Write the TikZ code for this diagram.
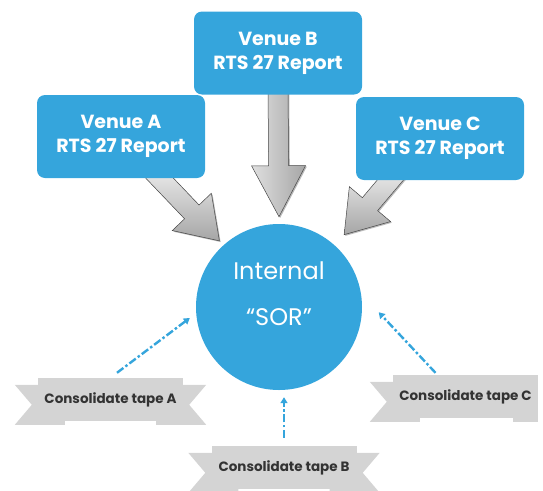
\documentclass[tikz,border=0pt]{standalone}
\usepackage{fontspec}
\setmainfont{Poppins}
\usetikzlibrary{calc,arrows.meta,backgrounds,shadows}

\definecolor{venueblue}{HTML}{35A5DC}
\definecolor{tapegray}{HTML}{D4D4D4}
\definecolor{tapetext}{HTML}{333333}

% ribbon ends behind a tape node
\newcommand\lefttail[1]{%
  \fill[tapegray] ($(#1.north west)+(-23,7)$) -- ++(17,20) -- ++(-17,20) -- ++(50,0) -- ++(0,-40) -- cycle;}
\newcommand\righttail[1]{%
  \fill[tapegray] ($(#1.north east)+(23,7)$) -- ++(-17,20) -- ++(17,20) -- ++(-50,0) -- ++(0,-40) -- cycle;}

% fat grey arrow: from, tip, head length, name of head base, shading
\newcommand\blockarrow[5]{%
  \coordinate (#4) at ($(#2)!#3!(#1)$);
  \shade[bigarrow,#5] ($(#1)!10pt!90:(#2)$) -- ($(#4)!10pt!90:(#2)$) -- ($(#4)!27pt!90:(#2)$) -- (#2)
    -- ($(#4)!27pt!-90:(#2)$) -- ($(#4)!10pt!-90:(#2)$) -- ($(#1)!10pt!-90:(#2)$) -- cycle;}

\begin{document}
\begin{tikzpicture}[x=1pt,y=-1pt,
  venue/.style={fill=venueblue, rounded corners=8pt, minimum width=168pt, minimum height=83pt,
    align=center, text=white, font=\bfseries\fontsize{19}{24}\selectfont},
  hub/.style={circle, fill=venueblue, minimum size=166pt, inner sep=0pt},
  hubtext/.style={align=center, text=white, font=\fontsize{24}{46}\selectfont, yshift=13pt},
  tape/.style={fill=tapegray, minimum width=145pt, minimum height=43pt, inner sep=0pt,
    text=tapetext, font=\bfseries\fontsize{13.5}{16}\selectfont},
  bigarrow/.style={draw=gray!55!black, line width=0.5pt,
    drop shadow={shadow xshift=1.2pt, shadow yshift=-1.2pt, opacity=0.55}},
  feed/.style={venueblue, line width=2.4pt, dash pattern=on 8pt off 2.5pt on 2.5pt off 2.5pt,
    -{Triangle[length=6pt,width=7pt]}}]
\useasboundingbox (0,0) rectangle (543,490);

\node[venue] at (278,53)    (venueB) {Venue B\\RTS 27 Report};
\node[venue] at (121,136.5) (venueA) {Venue A\\RTS 27 Report};
\node[venue] at (440,138.5) (venueC) {Venue C\\RTS 27 Report};

\node[hub, label={[hubtext]center:Internal\\“SOR”}] at (279,307) (sor) {};

\node[tape] at (110.5,399.5) (tapeA) {Consolidate tape A};
\node[tape] at (284,467.5)   (tapeB) {Consolidate tape B};
\node[tape] at (465.5,396.5) (tapeC) {Consolidate tape C};

\coordinate (fromA) at ([xshift=31pt,yshift=8pt]venueA.south);
\coordinate (fromB) at ([yshift=8pt]venueB.south);
\coordinate (fromC) at ([xshift=-43pt,yshift=8pt]venueC.south);
\coordinate (toA) at ($(sor)!1.07!(sor.132)$);
\coordinate (toB) at ($(sor)!1.085!(sor.90)$);
\coordinate (toC) at ($(sor)!1.17!(sor.48)$);

\begin{pgfonlayer}{background}
\blockarrow{fromA}{toA}{40pt}{headA}{top color=gray!12, bottom color=gray!70}
\blockarrow{fromB}{toB}{51pt}{headB}{left color=gray!25, right color=gray!70}
\blockarrow{fromC}{toC}{40pt}{headC}{top color=gray!12, bottom color=gray!70}
\lefttail{tapeA}
\righttail{tapeA}
\lefttail{tapeB}
\righttail{tapeB}
\lefttail{tapeC}
\fill[tapegray] ($(tapeC.north east)+(-25,7)$) rectangle ++(25,40);
\end{pgfonlayer}

\draw[feed] ([xshift=6.5pt,yshift=5pt]tapeA.north) -- ($(sor)!1.08!(sor.187)$);
\draw[feed] ([yshift=8pt]tapeB.north) -- ($(tapeB.north |- sor.south)+(0,7)$);
\draw[feed] ([xshift=-30pt,yshift=2pt]tapeC.north) -- ($(sor)!1.2!(sor.-3)$);
\end{tikzpicture}
\end{document}
